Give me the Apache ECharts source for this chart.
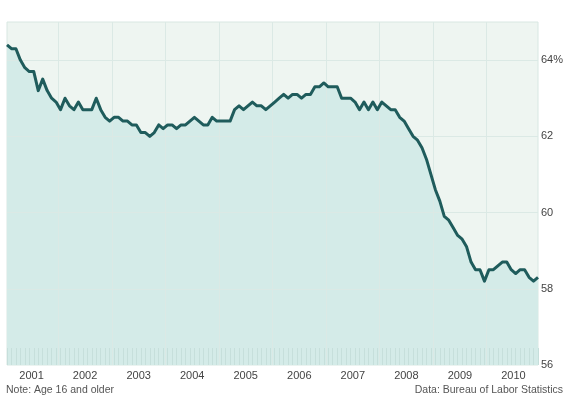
<!DOCTYPE html>
<html>
<head>
<meta charset="utf-8">
<script src="https://cdn.jsdelivr.net/npm/echarts@6/dist/echarts.min.js"></script>
<style>
  html, body { margin: 0; padding: 0; background: #fff; }
  #chart { width: 569px; height: 398px; }
</style>
</head>
<body>
<div id="chart"></div>
<script>
// Employment-population ratio, monthly, Jan 2001 - Dec 2010
const years = ['2001','2002','2003','2004','2005','2006','2007','2008','2009','2010'];
const yTicks = [56, 58, 60, 62, 64];
const emp = [
  64.4, 64.3, 64.3, 64.0, 63.8, 63.7, 63.7, 63.2, 63.5, 63.2, 63.0, 62.9,
  62.7, 63.0, 62.8, 62.7, 62.9, 62.7, 62.7, 62.7, 63.0, 62.7, 62.5, 62.4,
  62.5, 62.5, 62.4, 62.4, 62.3, 62.3, 62.1, 62.1, 62.0, 62.1, 62.3, 62.2,
  62.3, 62.3, 62.2, 62.3, 62.3, 62.4, 62.5, 62.4, 62.3, 62.3, 62.5, 62.4,
  62.4, 62.4, 62.4, 62.7, 62.8, 62.7, 62.8, 62.9, 62.8, 62.8, 62.7, 62.8,
  62.9, 63.0, 63.1, 63.0, 63.1, 63.1, 63.0, 63.1, 63.1, 63.3, 63.3, 63.4,
  63.3, 63.3, 63.3, 63.0, 63.0, 63.0, 62.9, 62.7, 62.9, 62.7, 62.9, 62.7,
  62.9, 62.8, 62.7, 62.7, 62.5, 62.4, 62.2, 62.0, 61.9, 61.7, 61.4, 61.0,
  60.6, 60.3, 59.9, 59.8, 59.6, 59.4, 59.3, 59.1, 58.7, 58.5, 58.5, 58.2,
  58.5, 58.5, 58.6, 58.7, 58.7, 58.5, 58.4, 58.5, 58.5, 58.3, 58.2, 58.3
];

const FONT = '"Liberation Sans", Arial, sans-serif';
const chart = echarts.init(document.getElementById('chart'), null, { renderer: 'canvas' });

const points     = emp.map((v, i) => [i, v]);
const monthTicks = emp.map((_, i) => i);
const yearLines  = years.slice(1).map((_, k) => 12 * (k + 1) - 0.5);
const yearMids   = years.map((_, k) => 12 * k + 5.5);

const gridMarks = [
  ...yearLines.map(x => ({ xAxis: x })),
  ...yTicks.slice(1).map(y => ({ yAxis: y }))
];

chart.setOption({
  animation: false,
  title: [
    { text: 'Note: Age 16 and older', left: 6, top: 385, padding: 0,
      textStyle: { fontFamily: FONT, fontSize: 10.5, fontWeight: 'normal', color: '#555' } },
    { text: 'Data: Bureau of Labor Statistics', right: 6, top: 385, padding: 0,
      textStyle: { fontFamily: FONT, fontSize: 10.5, fontWeight: 'normal', color: '#555' } }
  ],
  grid: {
    left: 7, right: 31, top: 22, bottom: 33,
    show: true, backgroundColor: '#eef5f1', borderColor: '#d8e7e2', borderWidth: 1
  },
  xAxis: {
    type: 'value', min: 0, max: emp.length - 1, z: 5,
    axisLine: { show: false },
    splitLine: { show: false },
    axisTick: {
      show: true, inside: true, length: 17, customValues: monthTicks,
      lineStyle: { color: '#c6dfdb', width: 1 }
    },
    axisLabel: {
      customValues: yearMids, margin: 5,
      fontFamily: FONT, fontSize: 11, color: '#444',
      formatter: v => years[Math.round((v - 5.5) / 12)]
    }
  },
  yAxis: {
    type: 'value', position: 'right', min: 56, max: 65, interval: 2,
    axisLine: { show: false },
    axisTick: { show: false },
    splitLine: { show: false },
    axisLabel: {
      customValues: yTicks, margin: 3,
      fontFamily: FONT, fontSize: 11, color: '#444',
      formatter: v => v === 64 ? '64%' : String(v)
    }
  },
  series: [
    {
      type: 'line', data: points, symbol: 'none', silent: true, z: 1,
      lineStyle: { width: 0 },
      areaStyle: { color: '#d4ebe8', opacity: 1 },
      markLine: {
        silent: true, symbol: 'none', label: { show: false },
        lineStyle: { color: '#dbe9e5', width: 1, type: 'solid' },
        emphasis: { disabled: true },
        data: gridMarks
      }
    },
    {
      type: 'line', data: points, symbol: 'none', silent: true, z: 10,
      lineStyle: { color: '#1f5c5c', width: 3, join: 'round' }
    }
  ]
});
</script>
</body>
</html>
